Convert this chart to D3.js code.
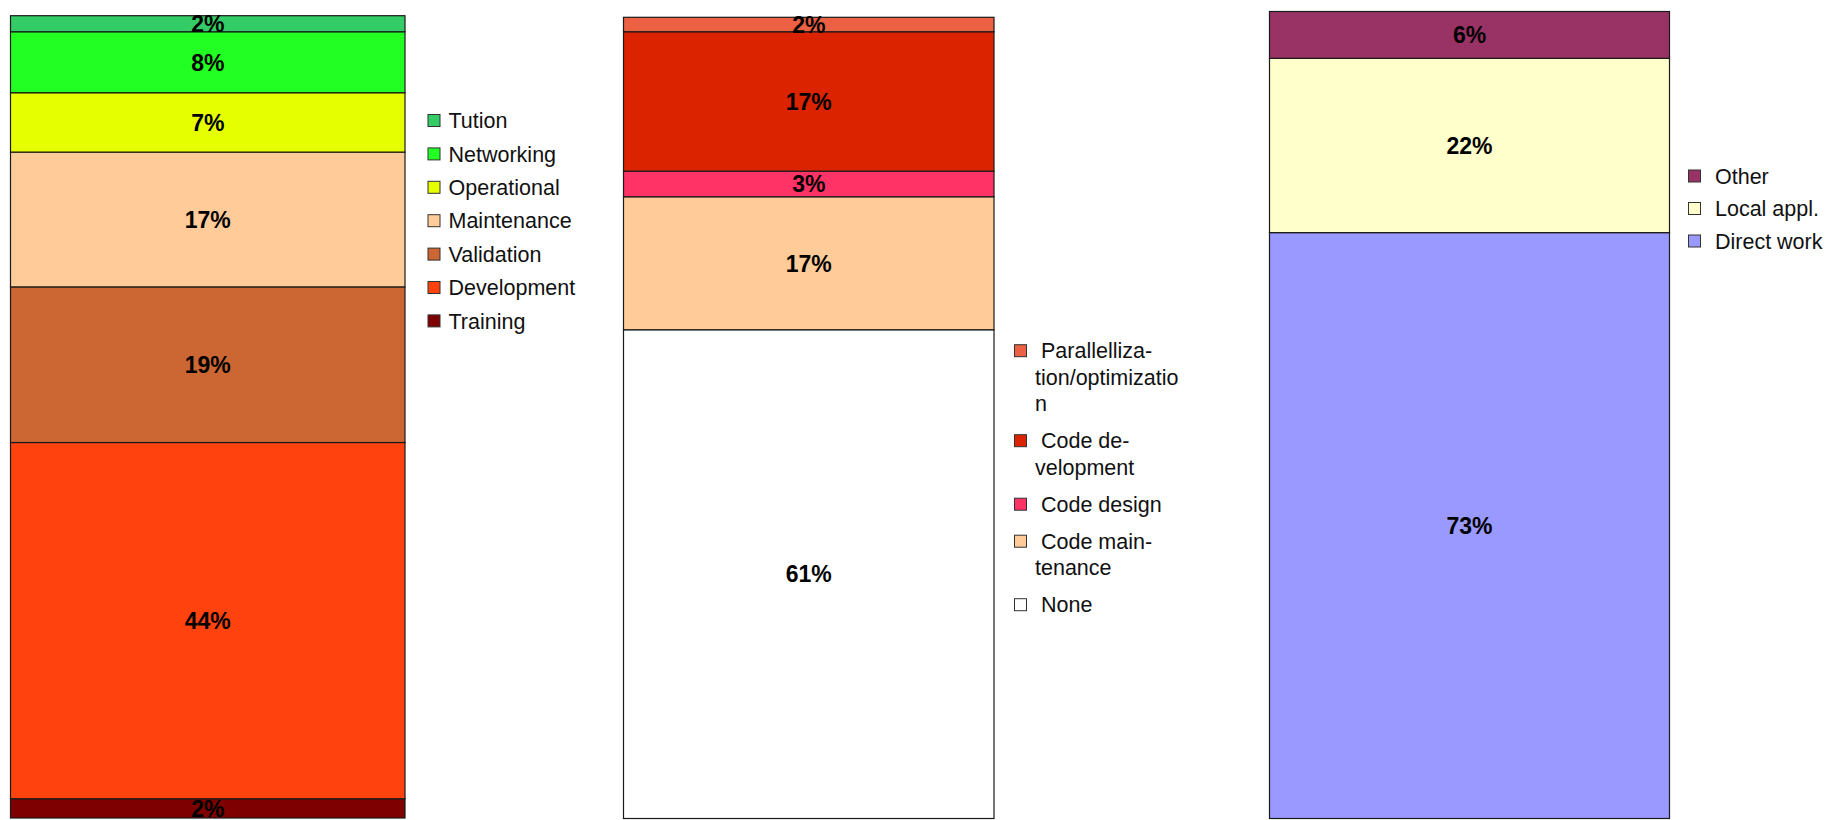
<!DOCTYPE html>
<html>
<head>
<meta charset="utf-8">
<script src="https://cdn.jsdelivr.net/npm/d3@7"></script>
<style>
  body { margin: 0; background: #fff; }
  svg { display: block; font-family: "Liberation Sans", Arial, sans-serif; }
</style>
</head>
<body>
<svg id="chart" width="1831" height="820"></svg>
<script>
// data, bottom segment first
const workCategories = ["Training", "Development", "Validation", "Maintenance", "Operational", "Networking", "Tution"];
const workValues = [2.4, 44.4, 19.4, 16.8, 7.4, 7.6, 2.0];
const workColors = ["#7f0000", "#ff420e", "#cc6633", "#ffcc99", "#e6ff00", "#22ff22", "#33cc66"];

const codeCategories = ["None", "Code main-\ntenance", "Code design", "Code de-\nvelopment", "Parallelliza-\ntion/optimizatio\nn"];
const codeValues = [61.0, 16.6, 3.2, 17.4, 1.8];
const codeColors = ["#ffffff", "#ffcc99", "#ff3366", "#dc2300", "#ec6043"];

const useCategories = ["Direct work", "Local appl.", "Other"];
const useValues = [72.6, 21.6, 5.8];
const useColors = ["#9999ff", "#ffffcc", "#993366"];

const svg = d3.select("#chart");

const charts = [
  {cats: workCategories, vals: workValues, colors: workColors,
   x0: 10.5, x1: 405, top: 15.7, bottom: 818,
   legX: 428, legY: 120.5, rowGap: 33.4, lineH: 26.5, pad: ""},
  {cats: codeCategories, vals: codeValues, colors: codeColors,
   x0: 623.5, x1: 994, top: 17.3, bottom: 818.5,
   legX: 1014.5, legY: 350.7, rowGap: 37, lineH: 26.5, pad: " "},
  {cats: useCategories, vals: useValues, colors: useColors,
   x0: 1269.5, x1: 1669.5, top: 11.5, bottom: 818.5,
   legX: 1688.5, legY: 176, rowGap: 32.5, lineH: 26.5, pad: " "}
];

charts.forEach(function(c, ci) {
  const g = svg.append("g");
  const x = d3.scaleBand().domain(["all"]).range([c.x0, c.x1]).padding(0);
  const y = d3.scaleLinear().domain([0, 100]).range([c.bottom, c.top]);

  // stack up
  let acc = 0;
  const segs = c.vals.map(function(v, i) {
    const s = {y0: acc, y1: acc + v, v: v, color: c.colors[i]};
    acc += v;
    return s;
  });

  g.selectAll("rect.seg")
    .data(segs)
    .enter()
    .append("rect")
    .attr("class", "seg")
    .attr("x", x("all"))
    .attr("width", x.bandwidth())
    .attr("y", d => y(d.y1))
    .attr("height", d => y(d.y0) - y(d.y1))
    .attr("fill", d => d.color)
    .attr("stroke", "#1a1a1a")
    .attr("stroke-width", 1.2);

  g.selectAll("text.lbl")
    .data(segs)
    .enter()
    .append("text")
    .attr("class", "lbl")
    .attr("x", x("all") + x.bandwidth() / 2)
    .attr("y", d => (y(d.y0) + y(d.y1)) / 2)
    .attr("dy", "0.36em")
    .attr("text-anchor", "middle")
    .attr("font-size", 23)
    .attr("font-weight", "bold")
    .attr("fill", "#000")
    .text(d => Math.round(d.v) + "%");

  // legend, top entry = top segment
  const leg = g.append("g");
  let ly = c.legY;
  for (let i = c.cats.length - 1; i >= 0; i--) {
    const lines = c.cats[i].split("\n");
    leg.append("rect")
      .attr("x", c.legX)
      .attr("y", ly - 6)
      .attr("width", 12)
      .attr("height", 12)
      .attr("fill", c.colors[i])
      .attr("stroke", "#333")
      .attr("stroke-width", 1);
    const t = leg.append("text")
      .attr("font-size", 21.5)
      .attr("fill", "#111")
      .style("white-space", "pre");
    lines.forEach(function(line, li) {
      t.append("tspan")
        .attr("x", c.legX + 20.5)
        .attr("y", ly + li * c.lineH)
        .attr("dy", "0.36em")
        .text((li == 0 ? c.pad : "") + line);
    });
    ly += (lines.length - 1) * c.lineH + c.rowGap;
  }
});
</script>
</body>
</html>
